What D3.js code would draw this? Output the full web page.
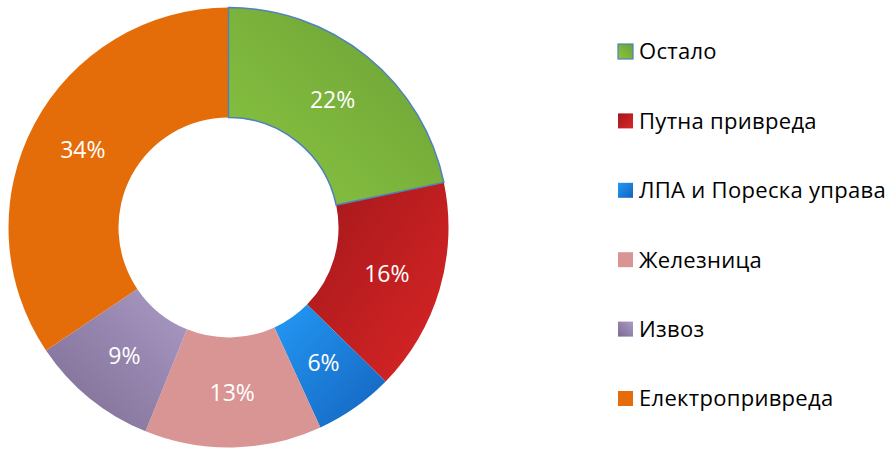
<!DOCTYPE html>
<html>
<head>
<meta charset="utf-8">
<script src="https://cdn.jsdelivr.net/npm/d3@7"></script>
<style>
  body { margin: 0; background: #fff; }
  svg { display: block; }
</style>
</head>
<body>
<div id="chart"></div>
<script>
// Data (shares; labels show them rounded)
const categories = ["Остало", "Путна привреда", "ЛПА и Пореска управа", "Железница", "Извоз", "Електропривреда"];
const shares = [21.7, 15.6, 5.8, 13.0, 9.4, 34.4];

// Gradient per slice: [start colour, end colour, x1, y1, x2, y2]
const fills = [
    ["#8ac641", "#6b9f36", 0, 1, 1, 0],
    ["#a3181b", "#db2526", 0, 0, 1, 1],
    ["#2399f5", "#1463bd", 0, 0, 1, 1],
    ["#d99594", "#d99594", 0, 0, 1, 1],
    ["#aa9bc6", "#7c6a90", 1, 0, 0, 1],
    ["#e46d0a", "#e46d0a", 0, 0, 1, 1]
];

const width = 894, height = 449;
const cx = 228.5, cy = 227.5;
const outerR = 220, innerR = 110;
const font = "'Open Sans', Lato, sans-serif";

const svg = d3.select("#chart")
    .append("svg")
    .attr("width", width)
    .attr("height", height);

// Gradients
const defs = svg.append("defs");
fills.forEach((f, i) => {
    const g = defs.append("linearGradient")
        .attr("id", `grad${i}`)
        .attr("x1", f[2]).attr("y1", f[3])
        .attr("x2", f[4]).attr("y2", f[5]);
    g.append("stop").attr("offset", "0%").attr("stop-color", f[0]);
    g.append("stop").attr("offset", "100%").attr("stop-color", f[1]);
});

const data = categories.map((name, i) => ({ name, value: shares[i], i }));

const pie = d3.pie()
    .sort(null)
    .value(d => d.value);

const arc = d3.arc()
    .innerRadius(innerR)
    .outerRadius(outerR);

const labelArc = d3.arc()
    .innerRadius((innerR + outerR) / 2)
    .outerRadius((innerR + outerR) / 2);

const g = svg.append("g")
    .attr("transform", `translate(${cx},${cy})`);

const arcs = pie(data);

// Slices
g.selectAll(".slice")
    .data(arcs)
    .enter()
    .append("path")
    .attr("class", "slice")
    .attr("d", arc)
    .attr("fill", d => `url(#grad${d.data.i})`)
    .attr("stroke", d => d.data.i === 0 ? "#4f81bd" : "none")
    .attr("stroke-width", 1.5);

// outlined slice on top
g.selectAll(".slice").filter(d => d.data.i === 0).raise();

// Labels
g.selectAll(".label")
    .data(arcs)
    .enter()
    .append("text")
    .attr("class", "label")
    .attr("transform", d => `translate(${labelArc.centroid(d)})`)
    .attr("text-anchor", "middle")
    .attr("dy", "0.36em")
    .attr("fill", "#fff")
    .style("font-family", font)
    .style("font-size", "23px")
    .text(d => `${Math.round(d.data.value)}%`);

// Legend
const legend = svg.append("g")
    .attr("transform", "translate(618,51.5)");

const rowStep = 69.4;

const item = legend.selectAll(".item")
    .data(data)
    .enter()
    .append("g")
    .attr("class", "item")
    .attr("transform", (d, i) => `translate(0,${i * rowStep})`);

item.append("rect")
    .attr("x", 0)
    .attr("y", -7.5)
    .attr("width", 15)
    .attr("height", 15)
    .attr("fill", d => `url(#grad${d.i})`)
    .attr("stroke", d => d.i === 0 ? "#4f81bd" : "none")
    .attr("stroke-width", 1.2);

item.append("text")
    .attr("x", 21)
    .attr("dy", "0.36em")
    .attr("fill", "#000")
    .style("font-family", font)
    .style("font-size", "22px")
    .style("letter-spacing", "0.3px")
    .text(d => d.name);
</script>
</body>
</html>
